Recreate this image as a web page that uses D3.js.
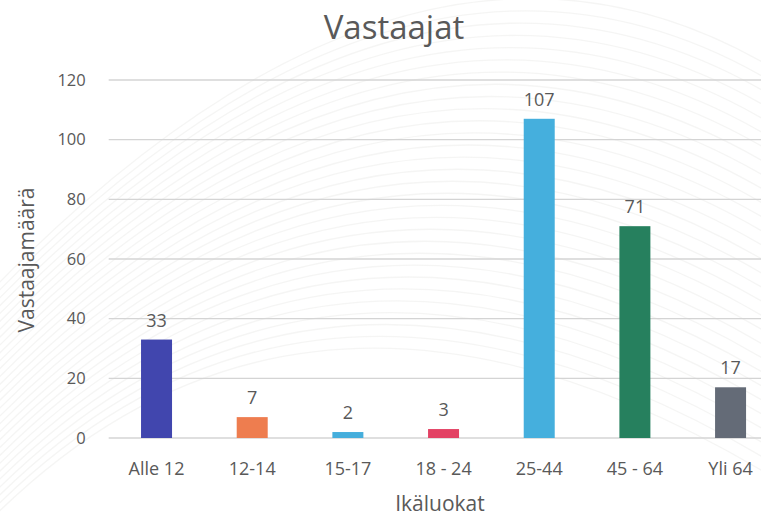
<!DOCTYPE html>
<html>
<head>
<meta charset="utf-8">
<script src="https://cdn.jsdelivr.net/npm/d3@7/dist/d3.min.js"></script>
<style>
  html, body { margin: 0; padding: 0; background: #ffffff; }
  svg { display: block; }
  text { font-family: "Open Sans", "Noto Sans", sans-serif; fill: #595959; }
</style>
</head>
<body>
<svg id="chart" width="761" height="519"></svg>
<script>
// Respondents by age group
const categories = ["Alle 12", "12-14", "15-17", "18 - 24", "25-44", "45 - 64", "Yli 64"];
const values = [33, 7, 2, 3, 107, 71, 17];
const barColors = ["#4146ae", "#ee7d4f", "#45aedc", "#e34264", "#45afdd", "#26805e", "#646b77"];
const yTicks = [0, 20, 40, 60, 80, 100, 120];

const svg = d3.select("#chart");

// faint decorative swirl texture in the background
const bg = svg.append("g").attr("fill", "none").attr("stroke", "#a8a398");
bg.selectAll("path.swirl")
  .data(d3.range(0, 30))
  .join("path")
  .attr("d", i => `M ${-80} ${600 - i * 8} Q ${280 + i * 5} ${140 - i * 12} ${840} ${520 - i * 14}`)
  .attr("stroke-opacity", 0.11)
  .attr("stroke-width", 1.3);

const plot = { left: 108.7, right: 778.4, top: 80, bottom: 438 };

const x = d3.scaleBand()
  .domain(categories)
  .range([plot.left, plot.right])
  .paddingInner(0.676)
  .paddingOuter(0.338);

const y = d3.scaleLinear()
  .domain([0, 120])
  .range([plot.bottom, plot.top]);

// gridlines
svg.append("g")
  .selectAll("line")
  .data(yTicks)
  .join("line")
  .attr("x1", plot.left)
  .attr("x2", plot.right)
  .attr("y1", d => y(d))
  .attr("y2", d => y(d))
  .attr("stroke", "#d4d4d4")
  .attr("stroke-width", 1.4);

// y axis labels
const yAxis = svg.append("g")
  .attr("transform", `translate(${plot.left}, 0)`)
  .call(d3.axisLeft(y).tickValues(yTicks).tickSize(0).tickPadding(23));
yAxis.select(".domain").remove();
yAxis.selectAll("text")
  .style("font-size", "16.5px")
  .attr("fill", "#595959")
  .style("font-family", "'Open Sans', sans-serif");

// x axis labels
const xAxis = svg.append("g")
  .attr("transform", `translate(0, ${plot.bottom})`)
  .call(d3.axisBottom(x).tickSize(0).tickPadding(24));
xAxis.select(".domain").remove();
xAxis.selectAll("text")
  .style("font-size", "18px")
  .attr("fill", "#595959")
  .style("font-family", "'Open Sans', sans-serif");

// bars
svg.append("g")
  .selectAll("rect")
  .data(values)
  .join("rect")
  .attr("x", (d, i) => x(categories[i]))
  .attr("y", d => y(d))
  .attr("width", x.bandwidth())
  .attr("height", d => y(0) - y(d))
  .attr("fill", (d, i) => barColors[i]);

// value labels
svg.append("g")
  .selectAll("text")
  .data(values)
  .join("text")
  .attr("x", (d, i) => x(categories[i]) + x.bandwidth() / 2)
  .attr("y", d => y(d) - 13)
  .attr("text-anchor", "middle")
  .style("font-size", "18px")
  .attr("fill", "#404040")
  .text(d => d);

// titles
svg.append("text")
  .attr("x", 394)
  .attr("y", 39)
  .attr("text-anchor", "middle")
  .style("font-size", "33px")
  .text("Vastaajat");

svg.append("text")
  .attr("transform", "translate(34, 260) rotate(-90)")
  .attr("text-anchor", "middle")
  .style("font-size", "21px")
  .text("Vastaajamäärä");

svg.append("text")
  .attr("x", 440)
  .attr("y", 511)
  .attr("text-anchor", "middle")
  .style("font-size", "21px")
  .text("Ikäluokat");
</script>
</body>
</html>
